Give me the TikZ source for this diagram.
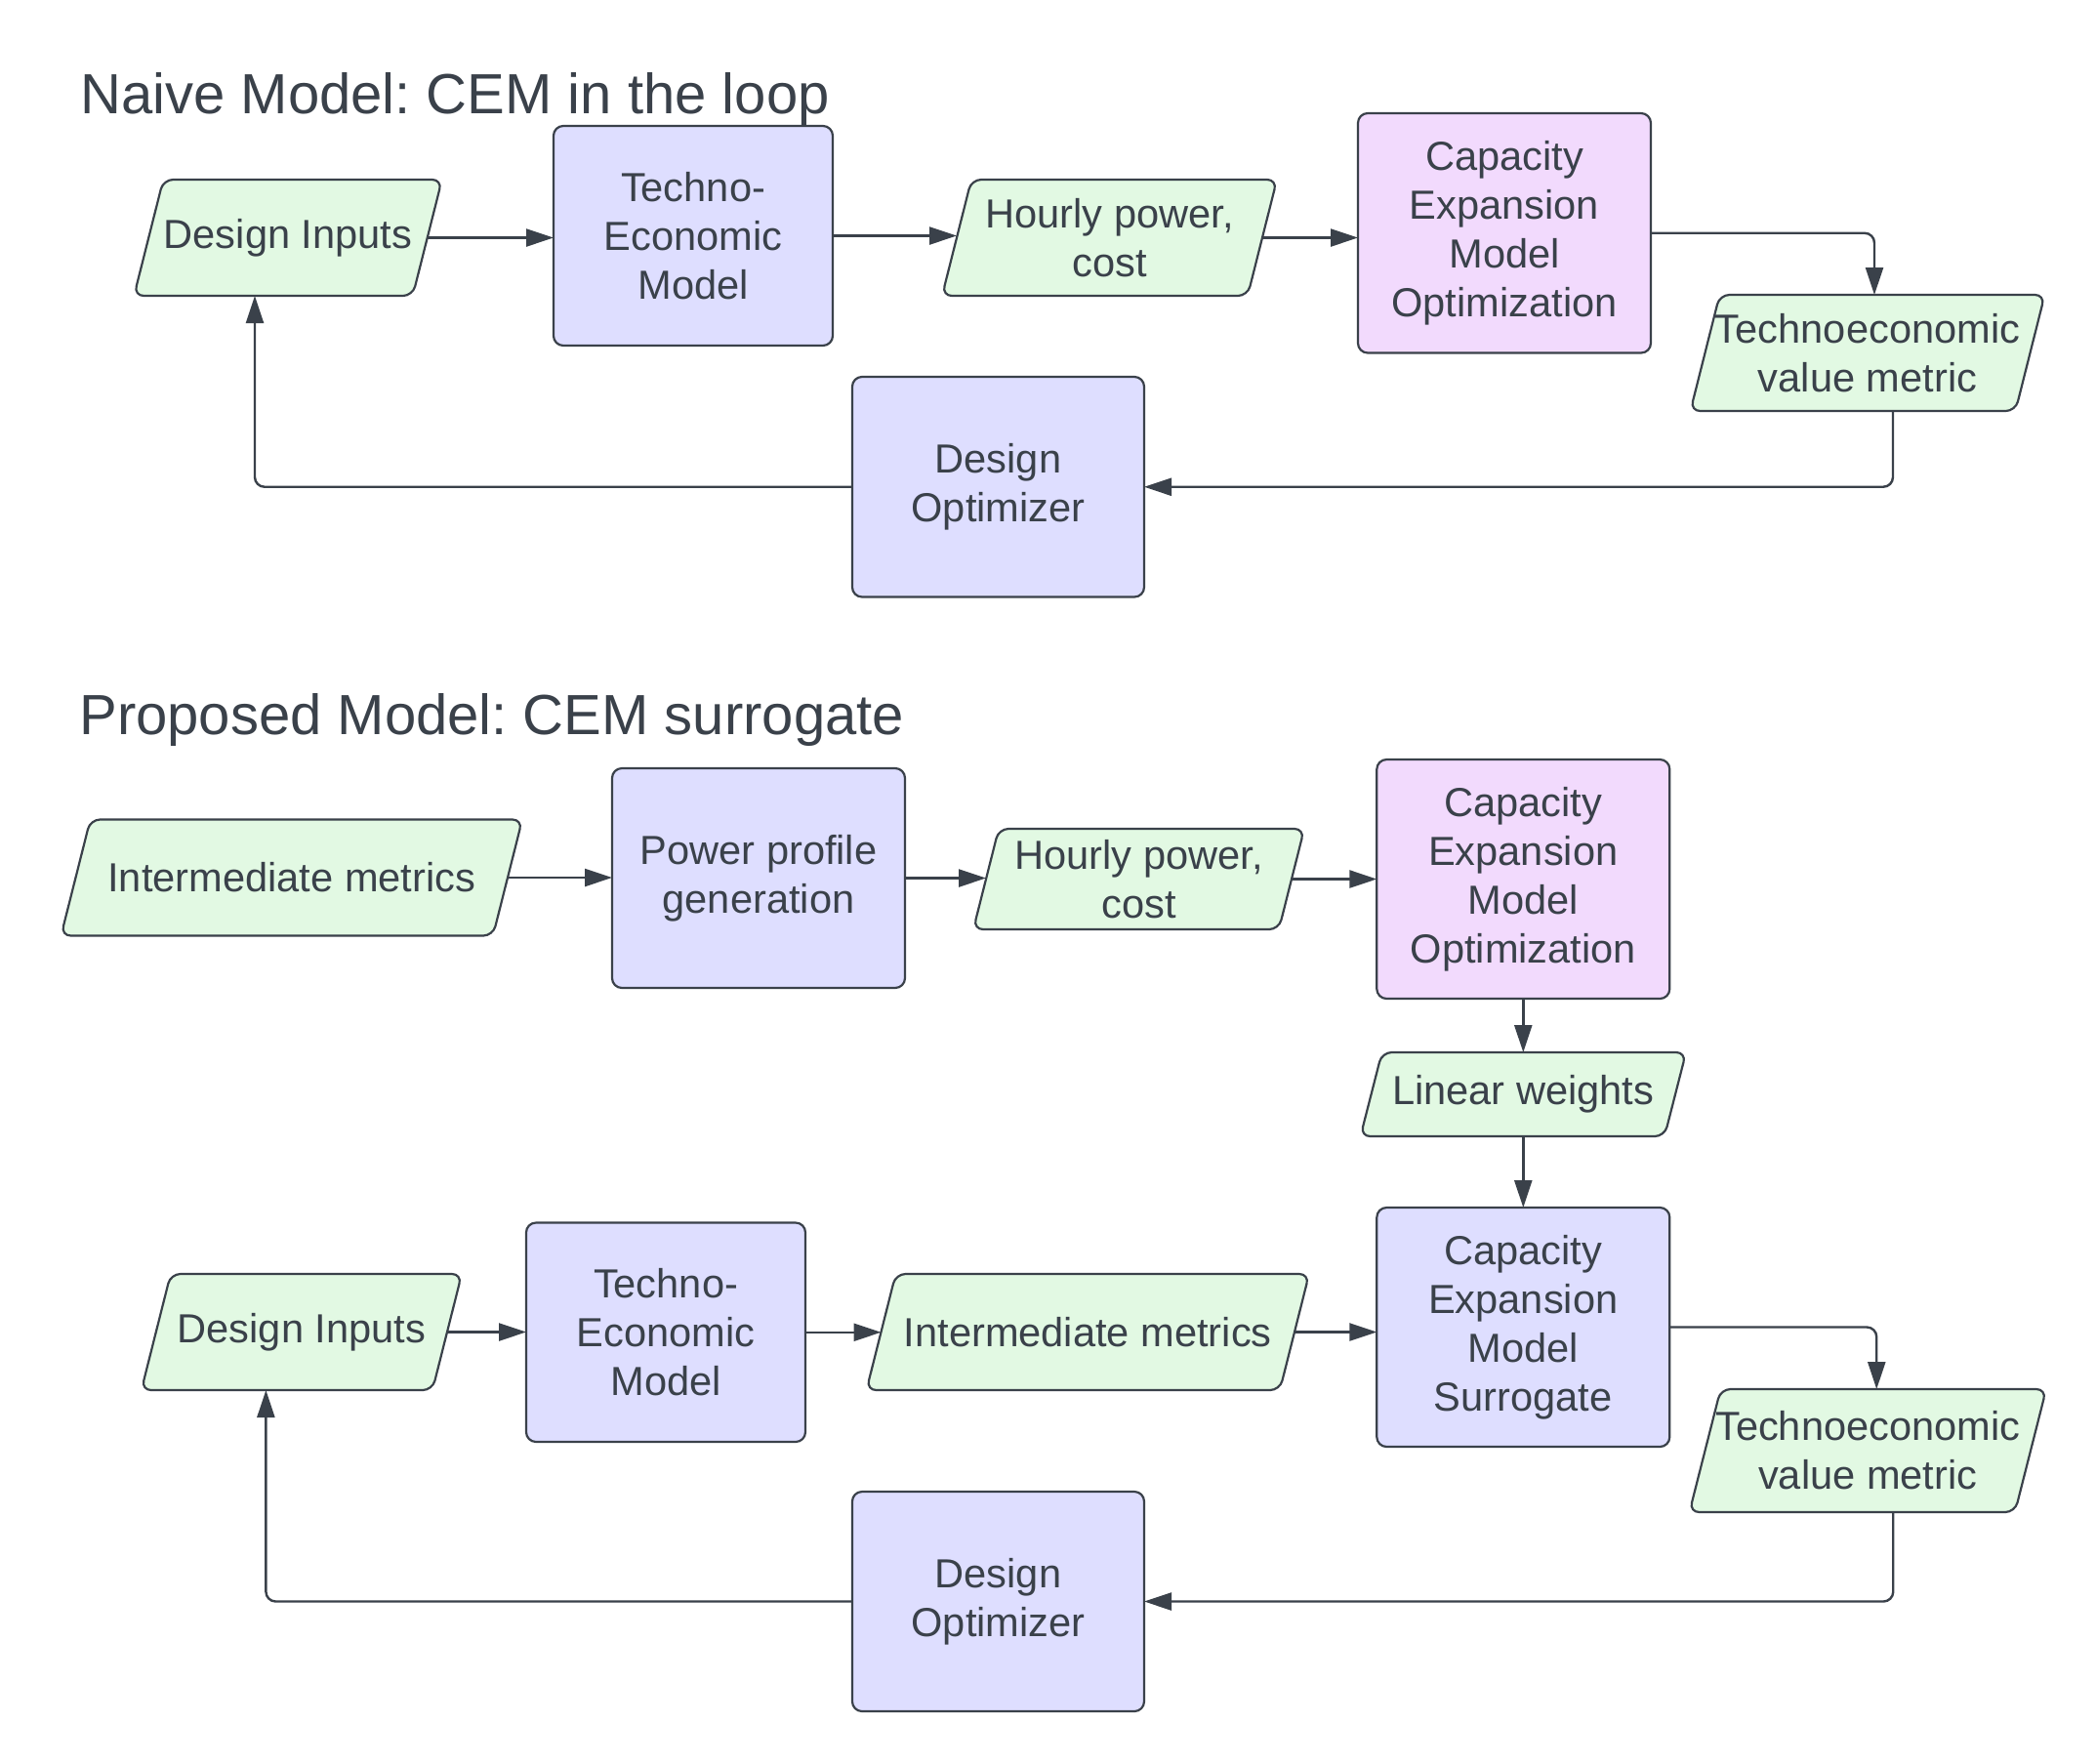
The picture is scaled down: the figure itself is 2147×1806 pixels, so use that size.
\documentclass[tikz,border=0pt]{standalone}
\usepackage{fontspec}
\setmainfont{Liberation Sans}
\frenchspacing
\usetikzlibrary{arrows.meta,calc,backgrounds}
\definecolor{ink}{HTML}{3A414A}
\definecolor{boxblue}{HTML}{DEDEFF}
\definecolor{boxgreen}{HTML}{E2F9E3}
\definecolor{boxpink}{HTML}{F2DAFD}
\tikzset{
  base/.style={inner sep=0pt, outer sep=0pt, align=center, text=ink,
    font=\fontsize{20.8pt}{25pt}\selectfont},
  proc/.style={base, draw=ink, line width=1.1pt, rounded corners=5pt, fill=boxblue},
  cemopt/.style={proc, fill=boxpink},
  datanode/.style={base},
  parashape/.style={draw=ink, line width=1.1pt, rounded corners=5pt, fill=boxgreen},
  heading/.style={inner sep=0pt, anchor=base west, text=ink,
    font=\fontsize{29pt}{34pt}\selectfont},
  conn/.style={draw=ink, line width=1.2pt, -{Triangle[length=14pt,width=9pt]}},
}
\begin{document}
\begin{tikzpicture}[x=0.5pt, y=-0.5pt]
\useasboundingbox (0,0) rectangle (2147,1806);

% ---------- Naive model ----------
\node[heading] (title1) at (82,116) {Naive Model: CEM in the loop};
\node[datanode, minimum width=142.75pt, minimum height=59.5pt] (di1) at (295,243.5) {Design Inputs};
\node[proc, minimum width=143pt, minimum height=112.5pt] (te1) at (710,241.5) {Techno-\\Economic\\Model};
\node[datanode, minimum width=156.5pt, minimum height=59.5pt] (hp1) at (1136.5,243.5) {Hourly power,\\cost};
\node[cemopt, minimum width=150pt, minimum height=122.75pt] (cem1) at (1541,238.75) {Capacity\\Expansion\\Model\\Optimization};
\node[datanode, minimum width=166.5pt, minimum height=59.5pt] (tvm1) at (1913,361.5) {Technoeconomic\\value metric};
\node[proc, minimum width=149.5pt, minimum height=112.75pt] (do1) at (1022.5,498.75) {Design\\Optimizer};

% ---------- Proposed model ----------
\node[heading] (title2) at (81,752.6) {Proposed Model: CEM surrogate};
\node[datanode, minimum width=221.25pt, minimum height=59.5pt] (im1) at (298.75,899) {Intermediate metrics};
\node[proc, minimum width=150pt, minimum height=112.5pt] (pp) at (777,899.5) {Power profile\\generation};
\node[datanode, minimum width=156.5pt, minimum height=51.5pt] (hp2) at (1166.5,900.5) {Hourly power,\\cost};
\node[cemopt, minimum width=150pt, minimum height=122.5pt] (cem2) at (1560.3,900.5) {Capacity\\Expansion\\Model\\Optimization};
\node[datanode, minimum width=155.75pt, minimum height=43pt] (lw) at (1560.3,1121) {Linear weights};
\node[proc, minimum width=150pt, minimum height=122.5pt] (sur) at (1560.3,1359.5) {Capacity\\Expansion\\Model\\Surrogate};
\node[datanode, minimum width=149.1pt, minimum height=59.5pt] (di2) at (308.9,1364.5) {Design Inputs};
\node[proc, minimum width=143pt, minimum height=112.25pt] (te2) at (682,1364.75) {Techno-\\Economic\\Model};
\node[datanode, minimum width=211.75pt, minimum height=59.5pt] (im2) at (1114.25,1364.5) {Intermediate metrics};
\node[datanode, minimum width=166.75pt, minimum height=63pt] (tvm2) at (1913.25,1486) {Technoeconomic\\value metric};
\node[proc, minimum width=149.5pt, minimum height=112.5pt] (do2) at (1022.5,1640.5) {Design\\Optimizer};

% ---------- parallelogram outlines (behind the text) ----------
\begin{scope}[on background layer]
\foreach \n/\s in {di1/15,hp1/15,tvm1/15,im1/15,hp2/13,lw/11,di2/15,im2/15,tvm2/16}{
  \path[parashape] ($(\n.south west)+(-\s,0)$) -- ($(\n.south east)+(-\s,0)$)
    -- ($(\n.north east)+(\s,0)$) -- ($(\n.north west)+(\s,0)$) -- cycle;
}
\end{scope}

% ---------- connectors: naive ----------
\draw[conn] (di1.east) -- (di1.east -| te1.west);
\draw[conn] (te1.east) -- (te1.east -| hp1.west);
\draw[conn] (hp1.east) -- (hp1.east -| cem1.west);
\draw[conn, rounded corners=5pt] (cem1.east) -| ($(tvm1.north)+(7,0)$);
\draw[conn, rounded corners=5pt] ($(tvm1.south)+(26,0)$) |- (do1.east);
\draw[conn, rounded corners=5pt] (do1.west) -| ($(di1.south)+(-34,0)$);

% ---------- connectors: proposed ----------
\draw[conn] (im1.east) -- (im1.east -| pp.west);
\draw[conn] (pp.east) -- (pp.east -| hp2.west);
\draw[conn] (hp2.east) -- (hp2.east -| cem2.west);
\draw[conn] (cem2.south) -- (lw.north);
\draw[conn] (lw.south) -- (sur.north);
\draw[conn] (di2.east) -- (di2.east -| te2.west);
\draw[conn] (te2.east) -- (te2.east -| im2.west);
\draw[conn] (im2.east) -- (im2.east -| sur.west);
\draw[conn, rounded corners=5pt] (sur.east) -| ($(tvm2.north)+(9,0)$);
\draw[conn, rounded corners=5pt] ($(tvm2.south)+(26,0)$) |- (do2.east);
\draw[conn, rounded corners=5pt] (do2.west) -| ($(di2.south)+(-36.5,0)$);
\end{tikzpicture}
\end{document}
